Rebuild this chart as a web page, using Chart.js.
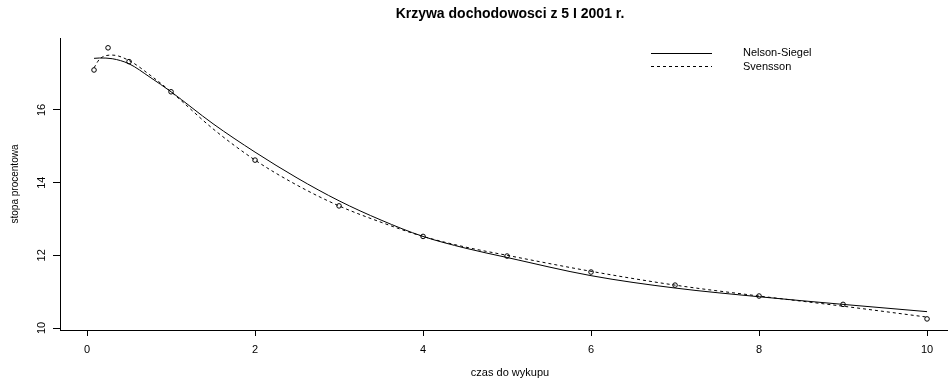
<!DOCTYPE html>
<html>
<head>
<meta charset="utf-8">
<script src="https://cdn.jsdelivr.net/npm/chart.js@4/dist/chart.umd.min.js"></script>
<style>
html,body{margin:0;padding:0;background:#fff;}
#wrap{width:948px;height:383px;position:relative;}
</style>
</head>
<body>
<div id="wrap"><canvas id="c" width="948" height="383"></canvas></div>
<script>
const titleText = "Krzywa dochodowosci z 5 I 2001 r.";
const xTitle = "czas do wykupu";
const yTitle = "stopa procentowa";
const seriesNames = ["Nelson-Siegel", "Svensson"];

const xTicks = [0, 2, 4, 6, 8, 10];
const yTicks = [10, 12, 14, 16];

// observed yields
const obsT = [0.083, 0.25, 0.5, 1, 2, 3, 4, 5, 6, 7, 8, 9, 10];
const obsY = [17.10, 17.71, 17.33, 16.50, 14.62, 13.36, 12.52, 11.98, 11.54, 11.18, 10.88, 10.65, 10.25];

// fitted curves
const curveT  = [0.083, 0.15, 0.3, 0.5, 0.75, 1, 1.5, 2, 2.5, 3, 3.5, 4, 4.5, 5, 6, 7, 8, 9, 10];
const nsY     = [17.42, 17.43, 17.41, 17.27, 16.90, 16.50, 15.62, 14.84, 14.13, 13.50, 12.97, 12.52, 12.20, 11.94, 11.44, 11.10, 10.86, 10.65, 10.45];
const svY     = [17.16, 17.40, 17.51, 17.36, 16.96, 16.50, 15.48, 14.62, 13.93, 13.36, 12.91, 12.52, 12.23, 12.00, 11.56, 11.18, 10.88, 10.60, 10.30];

const FONT = "'Liberation Sans', Arial, sans-serif";

const pts = (xs, ys) => xs.map((x, i) => ({x: x, y: ys[i]}));

const overlay = {
  id: 'overlay',
  afterDraw(chart) {
    const ctx = chart.ctx;
    const ca = chart.chartArea;
    const ys = chart.scales.y;
    ctx.save();
    ctx.fillStyle = '#000';
    ctx.strokeStyle = '#000';
    ctx.lineWidth = 1;
    // extend bottom axis line to the right edge
    ctx.beginPath();
    ctx.moveTo(ca.right - 1, Math.round(ca.bottom) + 0.5);
    ctx.lineTo(chart.width, Math.round(ca.bottom) + 0.5);
    ctx.stroke();
    // title
    ctx.font = "bold 14px " + FONT;
    ctx.textAlign = 'center';
    ctx.textBaseline = 'middle';
    ctx.fillText(titleText, 510, 14);
    // x title
    ctx.font = "11px " + FONT;
    ctx.fillText(xTitle, 510, 373);
    // y tick labels rotated
    ctx.font = "11px " + FONT;
    yTicks.forEach(v => {
      const py = ys.getPixelForValue(v);
      ctx.save();
      ctx.translate(42, py);
      ctx.rotate(-Math.PI / 2);
      ctx.fillText(String(v), 0, 0);
      ctx.restore();
    });
    // y title
    ctx.font = "10px " + FONT;
    ctx.save();
    ctx.translate(15, (ca.top + ca.bottom) / 2);
    ctx.rotate(-Math.PI / 2);
    ctx.fillText(yTitle, 0, 0);
    ctx.restore();
    // legend
    ctx.beginPath();
    ctx.moveTo(651, 53.5); ctx.lineTo(712, 53.5);
    ctx.stroke();
    ctx.setLineDash([3, 3]);
    ctx.beginPath();
    ctx.moveTo(651, 66.5); ctx.lineTo(712, 66.5);
    ctx.stroke();
    ctx.setLineDash([]);
    ctx.textAlign = 'left';
    ctx.font = "11px " + FONT;
    ctx.fillText(seriesNames[0], 743, 53);
    ctx.fillText(seriesNames[1], 743, 67);
    ctx.restore();
  }
};

new Chart(document.getElementById('c'), {
  type: 'scatter',
  data: {
    datasets: [
      {
        label: 'dane',
        data: pts(obsT, obsY),
        showLine: false,
        pointStyle: 'circle',
        pointRadius: 2.3,
        pointBorderWidth: 1,
        pointBorderColor: '#000',
        pointBackgroundColor: 'rgba(0,0,0,0)',
        order: 0
      },
      {
        label: seriesNames[0],
        data: pts(curveT, nsY),
        showLine: true,
        borderColor: '#000',
        borderWidth: 1,
        pointRadius: 0,
        cubicInterpolationMode: 'monotone',
        order: 1
      },
      {
        label: seriesNames[1],
        data: pts(curveT, svY),
        showLine: true,
        borderColor: '#000',
        borderWidth: 1,
        borderDash: [3, 3],
        pointRadius: 0,
        cubicInterpolationMode: 'monotone',
        order: 2
      }
    ]
  },
  options: {
    responsive: false,
    animation: false,
    devicePixelRatio: 1,
    layout: { padding: { top: 38, right: 0, left: 0, bottom: 0 } },
    plugins: { legend: { display: false }, title: { display: false }, tooltip: { enabled: false } },
    scales: {
      x: {
        type: 'linear',
        min: -0.322,
        max: 10.19,
        afterBuildTicks: s => { s.ticks = xTicks.map(v => ({value: v})); },
        afterFit: s => { s.height = 53; },
        border: { display: true, color: '#000', width: 1 },
        grid: { display: true, drawOnChartArea: false, drawTicks: true, tickLength: 6, color: '#000' },
        ticks: { color: '#000', padding: 7, font: { family: FONT, size: 11 }, maxRotation: 0 }
      },
      y: {
        type: 'linear',
        min: 9.945,
        max: 17.98,
        afterBuildTicks: s => { s.ticks = yTicks.map(v => ({value: v})); },
        afterFit: s => { s.width = 60; },
        border: { display: true, color: '#000', width: 1 },
        grid: { display: true, drawOnChartArea: false, drawTicks: true, tickLength: 7, color: '#000' },
        ticks: { display: false }
      }
    }
  },
  plugins: [overlay]
});
</script>
</body>
</html>
